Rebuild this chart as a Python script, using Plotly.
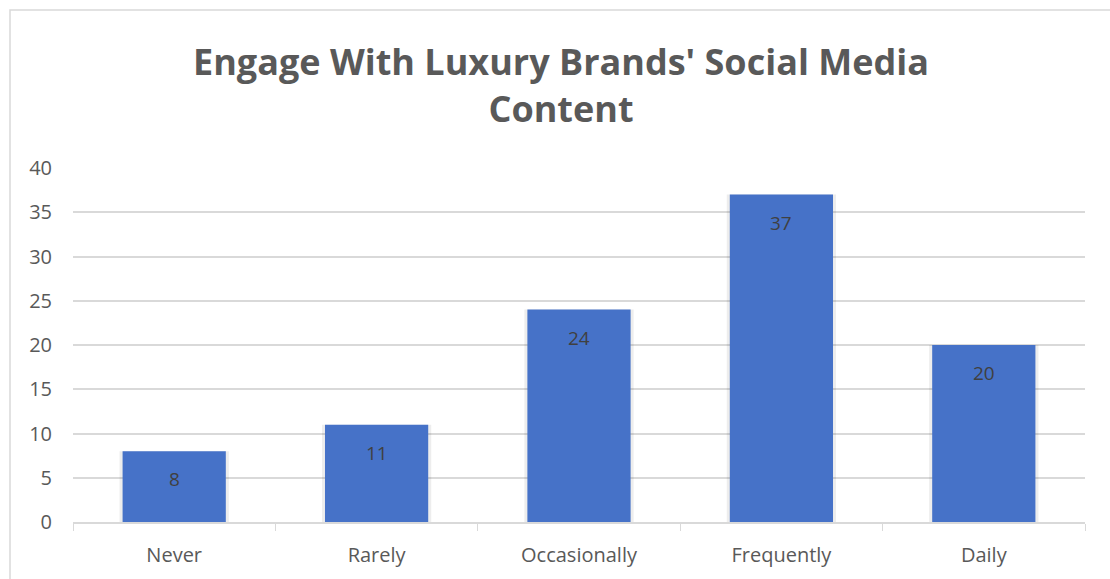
import plotly.graph_objects as go

categories = ["Never", "Rarely", "Occasionally", "Frequently", "Daily"]
values = [8, 11, 24, 37, 20]
y_ticks = [0, 5, 10, 15, 20, 25, 30, 35, 40]

W, H = 1110, 579
ML, MR, MT, MB = 73, 25, 168, 57
PW = W - ML - MR
PH = H - MT - MB

fig = go.Figure()

# soft shadow behind each bar
fig.add_trace(go.Bar(
    x=categories, y=values, width=0.54,
    marker=dict(color="rgba(0,0,0,0.07)", line=dict(width=0)),
    hoverinfo="skip", showlegend=False,
))
fig.add_trace(go.Bar(
    x=categories, y=values, width=0.51,
    marker=dict(color="#4672c8", line=dict(width=0)),
    showlegend=False,
))

# value labels just below each bar top
for c, v in zip(categories, values):
    fig.add_annotation(x=c, y=v, text=str(v), showarrow=False, yshift=-28,
                       font=dict(family="Open Sans", size=19, color="#404040"))

# chart area border
fig.add_shape(type="rect", xref="paper", yref="paper",
              x0=(10 - ML) / PW, x1=(W + 20 - ML) / PW,
              y0=-(H + 20 - MT - PH) / PH, y1=(H - MB - 10) / PH,
              line=dict(color="#d9d9d9", width=1.5), fillcolor="rgba(0,0,0,0)", layer="below")

fig.update_layout(
    width=W, height=H,
    margin=dict(l=ML, r=MR, t=MT, b=MB),
    paper_bgcolor="white", plot_bgcolor="white",
    barmode="overlay",
    title=dict(text="Engage With Luxury Brands' Social Media<br>Content",
               x=561 / W, xanchor="center", y=1 - 75 / H, yanchor="middle",
               font=dict(family="Open Sans", size=36, color="#595959", weight="bold")),
    font=dict(family="Open Sans", size=20, color="#595959"),
)
fig.update_xaxes(
    type="category", showgrid=False, showline=True, linecolor="#d9d9d9", linewidth=1.5,
    ticks="outside", tickson="boundaries", ticklen=7, tickcolor="#d9d9d9",
    ticklabelstandoff=14,
    tickfont=dict(family="Open Sans", size=20, color="#595959"),
)
fig.update_yaxes(
    range=[0, 40], tickvals=y_ticks, showgrid=True, gridcolor="#d9d9d9", gridwidth=1.5,
    zeroline=False, showline=False, ticklabelstandoff=20,
    tickfont=dict(family="Open Sans", size=20, color="#595959"),
)

fig.write_html("out.html")
